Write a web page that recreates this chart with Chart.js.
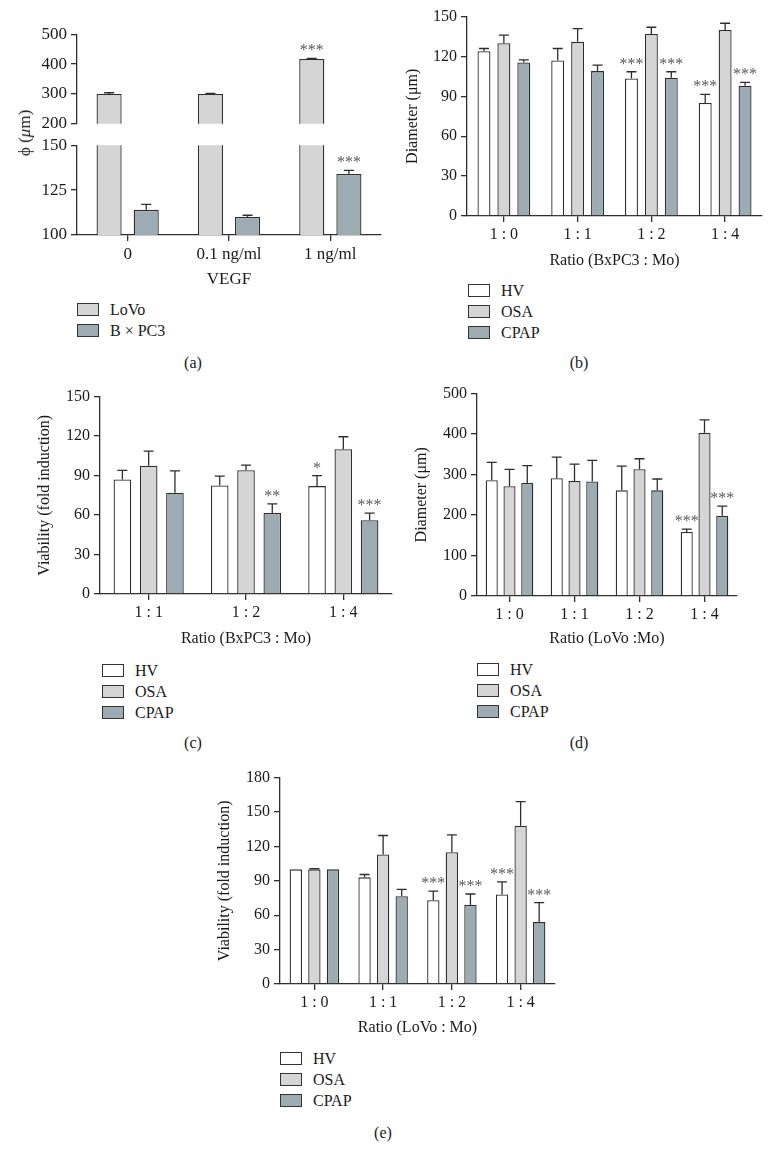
<!DOCTYPE html>
<html>
<head>
<meta charset="utf-8">
<script src="https://cdn.jsdelivr.net/npm/chart.js@4.4.0/dist/chart.umd.min.js"></script>
<style>
  html,body{margin:0;padding:0;background:#fff;}
  body{width:773px;height:1165px;position:relative;overflow:hidden;font-family:"Liberation Serif","DejaVu Serif",serif;color:#1a1a1a;}
  .lg{position:absolute;font-size:16px;line-height:21px;}
  .lg .row{height:21px;display:flex;align-items:center;white-space:nowrap;}
  .lg .box{width:20px;height:11px;border:1.3px solid #333;margin-right:11px;flex:none;}
  .pl{position:absolute;font-size:16px;transform:translate(-50%,-50%);}
  .yt{position:absolute;font-size:17px;transform:translate(-50%,-50%) rotate(-90deg);white-space:nowrap;}
</style>
</head>
<body>
<script>
// ---------- DATA ----------
// Panel (a)
const aCategories = ['0', '0.1 ng/ml', '1 ng/ml'];
const aLoVo = [300, 300, 417];
const aLoVoErr = [4, 2, 2];
const aLoVoSig = ['', '', '***'];
const aBxPC3 = [114, 110, 134];
const aBxPC3Err = [3, 1, 2];
const aBxPC3Sig = ['', '', '***'];
const aUpperTicks = [200, 300, 400, 500];
const aLowerTicks = [100, 125, 150];

// Panel (b)
const bCategories = ['1 : 0', '1 : 1', '1 : 2', '1 : 4'];
const bHV = [124, 117, 103.5, 85];
const bHVErr = [2, 9, 5, 6.5];
const bHVSig = ['', '', '***', '***'];
const bOSA = [130, 131, 137, 140];
const bOSAErr = [6, 10, 5, 5];
const bOSASig = ['', '', '', ''];
const bCPAP = [115.5, 109, 104, 98];
const bCPAPErr = [2, 4.5, 4.5, 2.5];
const bCPAPSig = ['', '', '***', '***'];
const bTicks = [0, 30, 60, 90, 120, 150];

// Panel (c)
const cCategories = ['1 : 1', '1 : 2', '1 : 4'];
const cHV = [87, 82.5, 82];
const cHVErr = [7, 7, 8];
const cHVSig = ['', '', '*'];
const cOSA = [97.5, 94, 110];
const cOSAErr = [11, 4, 9.5];
const cOSASig = ['', '', ''];
const cCPAP = [77, 61.5, 56];
const cCPAPErr = [16.5, 7, 5.5];
const cCPAPSig = ['', '**', '***'];
const cTicks = [0, 30, 60, 90, 120, 150];

// Panel (d)
const dCategories = ['1 : 0', '1 : 1', '1 : 2', '1 : 4'];
const dHV = [286, 291, 261, 158];
const dHVErr = [44, 52, 60, 7];
const dHVSig = ['', '', '', '***'];
const dOSA = [271, 284, 313, 403];
const dOSAErr = [42, 42, 26, 32];
const dOSASig = ['', '', '', ''];
const dCPAP = [279, 283, 261, 198];
const dCPAPErr = [43, 52, 28, 24];
const dCPAPSig = ['', '', '', '***'];
const dTicks = [0, 100, 200, 300, 400, 500];

// Panel (e)
const eCategories = ['1 : 0', '1 : 1', '1 : 2', '1 : 4'];
const eHV = [100, 93, 73, 78];
const eHVErr = [0, 2.5, 8, 11];
const eHVSig = ['', '', '***', '***'];
const eOSA = [100, 113, 115, 138];
const eOSAErr = [0.6, 16.5, 15, 21];
const eOSASig = ['', '', '', ''];
const eCPAP = [100, 76.5, 69, 54];
const eCPAPErr = [0, 6, 9.5, 17];
const eCPAPSig = ['', '', '***', '***'];
const eTicks = [0, 30, 60, 90, 120, 150, 180];

// ---------- STYLE ----------
const SERIF = '"Liberation Serif","DejaVu Serif",serif';
const AX = '#2e2e2e';
const TXT = '#1a1a1a';
const C_WHITE = '#ffffff';
const C_LIGHT = '#d5d5d5';
const C_BLUE = '#9dacb3';

// ---------- PLUGIN: error bars + significance ----------
const errPlugin = {
  id: 'errbars',
  afterDatasetsDraw(chart) {
    const ctx = chart.ctx;
    const y = chart.scales.y;
    ctx.save();
    chart.data.datasets.forEach((ds, i) => {
      const meta = chart.getDatasetMeta(i);
      meta.data.forEach((bar, j) => {
        const v = ds.data[j];
        if (v == null || v > y.max || v < y.min) return;
        const e = ds.errors ? ds.errors[j] : 0;
        const top = y.getPixelForValue(v + e);
        if (e > 0) {
          ctx.strokeStyle = AX;
          ctx.lineWidth = 1.3;
          ctx.beginPath();
          ctx.moveTo(bar.x, bar.y);
          ctx.lineTo(bar.x, top);
          ctx.moveTo(bar.x - 5, top);
          ctx.lineTo(bar.x + 5, top);
          ctx.stroke();
        }
        const s = ds.sig ? ds.sig[j] : '';
        if (s) {
          ctx.fillStyle = '#5a5a5a';
          ctx.font = '16px ' + SERIF;
          ctx.textAlign = 'center';
          ctx.textBaseline = 'alphabetic';
          ctx.fillText(s, bar.x, top - 3);
        }
      });
    });
    ctx.restore();
  }
};

// ---------- HELPERS ----------
function mount(area, YW, XH, padT, padR, padB) {
  const c = document.createElement('canvas');
  const w = Math.round(YW + (area.r - area.l) + padR);
  const h = Math.round(padT + (area.b - area.t) + XH + padB);
  c.width = w; c.height = h;
  c.style.cssText = `position:absolute;left:${area.l - YW}px;top:${area.t - padT}px;width:${w}px;height:${h}px;`;
  document.body.appendChild(c);
  return c;
}

function ds(label, data, errors, sig, color) {
  return {
    label, data, errors, sig,
    backgroundColor: color, borderColor: AX, borderWidth: 1.3,
    borderSkipped: 'start', clip: 0
  };
}

function makeChart(cfg) {
  const padT = cfg.padT ?? 12, padR = cfg.padR ?? 14, padB = cfg.padB ?? 0;
  const XH = cfg.showX ? cfg.XH : 0;
  const canvas = mount(cfg.area, cfg.YW, XH, padT, padR, padB);
  return new Chart(canvas, {
    type: 'bar',
    data: { labels: cfg.labels, datasets: cfg.datasets },
    plugins: [errPlugin],
    options: {
      responsive: false, animation: false, devicePixelRatio: 1,
      layout: { padding: { left: 0, top: padT, right: padR, bottom: padB } },
      plugins: { legend: { display: false }, tooltip: { enabled: false } },
      datasets: { bar: { categoryPercentage: cfg.catPct, barPercentage: cfg.barPct } },
      scales: {
        x: {
          type: 'category', offset: true, display: cfg.showX,
          grid: { display: true, drawOnChartArea: false, drawTicks: true, tickLength: 6, offset: false, color: AX, lineWidth: 1.3 },
          border: { display: true, color: AX, width: 1.3 },
          ticks: { font: { family: SERIF, size: cfg.fs }, color: TXT, padding: 3, maxRotation: 0, autoSkip: false },
          title: { display: !!cfg.xTitle, text: cfg.xTitle, font: { family: SERIF, size: cfg.fs }, color: TXT, padding: 0 },
          afterFit: s => { s.height = XH; }
        },
        y: {
          type: 'linear', min: cfg.ticks[0], max: cfg.ticks[cfg.ticks.length - 1],
          afterBuildTicks: s => { s.ticks = cfg.ticks.map(v => ({ value: v })); },
          grid: { display: true, drawOnChartArea: false, drawTicks: true, tickLength: 6, color: AX, lineWidth: 1.3 },
          border: { display: true, color: AX, width: 1.3 },
          ticks: { font: { family: SERIF, size: cfg.tfs || cfg.fs }, color: TXT, padding: 4 },
          title: { display: !!cfg.yTitle, text: cfg.yTitle, font: { family: SERIF, size: cfg.fs }, color: TXT, padding: 0 },
          afterFit: s => { s.width = cfg.YW; }
        }
      }
    }
  });
}

function legend(x, y, datasets) {
  const d = document.createElement('div');
  d.className = 'lg';
  d.style.left = x + 'px';
  d.style.top = y + 'px';
  datasets.forEach(s => {
    const r = document.createElement('div'); r.className = 'row';
    const b = document.createElement('span'); b.className = 'box'; b.style.background = s.backgroundColor;
    const t = document.createElement('span'); t.textContent = s.label;
    r.appendChild(b); r.appendChild(t); d.appendChild(r);
  });
  document.body.appendChild(d);
}

function label(text, x, y, cls) {
  const d = document.createElement('div');
  d.className = cls || 'pl';
  d.style.left = x + 'px'; d.style.top = y + 'px';
  d.innerHTML = text;
  document.body.appendChild(d);
}

// ---------- PANEL (a) : broken axis, two stacked charts ----------
const aSets = () => [
  ds('LoVo', aLoVo, aLoVoErr, aLoVoSig, C_LIGHT),
  ds('B × PC3', aBxPC3, aBxPC3Err, aBxPC3Sig, C_BLUE)
];
makeChart({ area: { l: 77, r: 380.5, t: 32, b: 126 }, YW: 44, showX: false, padB: 12,
  labels: aCategories, datasets: aSets(), ticks: aUpperTicks, fs: 17, catPct: 0.733, barPct: 0.676 });
const aLower = makeChart({ area: { l: 77, r: 380.5, t: 141, b: 235 }, YW: 44, XH: 55, showX: true, padT: 10,
  labels: aCategories, datasets: aSets(), ticks: aLowerTicks, xTitle: 'VEGF', fs: 17, catPct: 0.733, barPct: 0.676 });
label('ϕ (<i>μ</i>m)', 25, 133, 'yt');
legend(77, 299, aLower.data.datasets);
label('(a)', 193, 363);

// ---------- PANEL (b) ----------
const bChart = makeChart({ area: { l: 467, r: 762, t: 15, b: 216 }, YW: 64, XH: 54, showX: true,
  labels: bCategories, yTitle: 'Diameter (μm)', xTitle: 'Ratio (BxPC3 : Mo)', ticks: bTicks, fs: 16,
  catPct: 0.81, barPct: 0.65,
  datasets: [ds('HV', bHV, bHVErr, bHVSig, C_WHITE), ds('OSA', bOSA, bOSAErr, bOSASig, C_LIGHT), ds('CPAP', bCPAP, bCPAPErr, bCPAPSig, C_BLUE)] });
legend(468, 280, bChart.data.datasets);
label('(b)', 579, 363);

// ---------- PANEL (c) ----------
const cChart = makeChart({ area: { l: 100, r: 392, t: 395, b: 594 }, YW: 65, XH: 54, showX: true,
  labels: cCategories, yTitle: 'Viability (fold induction)', xTitle: 'Ratio (BxPC3 : Mo)', ticks: cTicks, fs: 16,
  catPct: 0.81, barPct: 0.67,
  datasets: [ds('HV', cHV, cHVErr, cHVSig, C_WHITE), ds('OSA', cOSA, cOSAErr, cOSASig, C_LIGHT), ds('CPAP', cCPAP, cCPAPErr, cCPAPSig, C_BLUE)] });
legend(102, 660, cChart.data.datasets);
label('(c)', 193, 743);

// ---------- PANEL (d) ----------
const dChart = makeChart({ area: { l: 477, r: 737, t: 392, b: 596 }, YW: 65, XH: 52, showX: true,
  labels: dCategories, yTitle: 'Diameter (μm)', xTitle: 'Ratio (LoVo :Mo)', ticks: dTicks, fs: 16,
  catPct: 0.82, barPct: 0.68,
  datasets: [ds('HV', dHV, dHVErr, dHVSig, C_WHITE), ds('OSA', dOSA, dOSAErr, dOSASig, C_LIGHT), ds('CPAP', dCPAP, dCPAPErr, dCPAPSig, C_BLUE)] });
legend(477, 659, dChart.data.datasets);
label('(d)', 579, 743);

// ---------- PANEL (e) ----------
const eChart = makeChart({ area: { l: 280, r: 555, t: 776, b: 984 }, YW: 65, XH: 53, showX: true,
  labels: eCategories, yTitle: 'Viability (fold induction)', xTitle: 'Ratio (LoVo : Mo)', ticks: eTicks, fs: 16,
  catPct: 0.81, barPct: 0.665,
  datasets: [ds('HV', eHV, eHVErr, eHVSig, C_WHITE), ds('OSA', eOSA, eOSAErr, eOSASig, C_LIGHT), ds('CPAP', eCPAP, eCPAPErr, eCPAPSig, C_BLUE)] });
legend(280, 1048, eChart.data.datasets);
label('(e)', 383, 1133);
</script>
</body>
</html>
